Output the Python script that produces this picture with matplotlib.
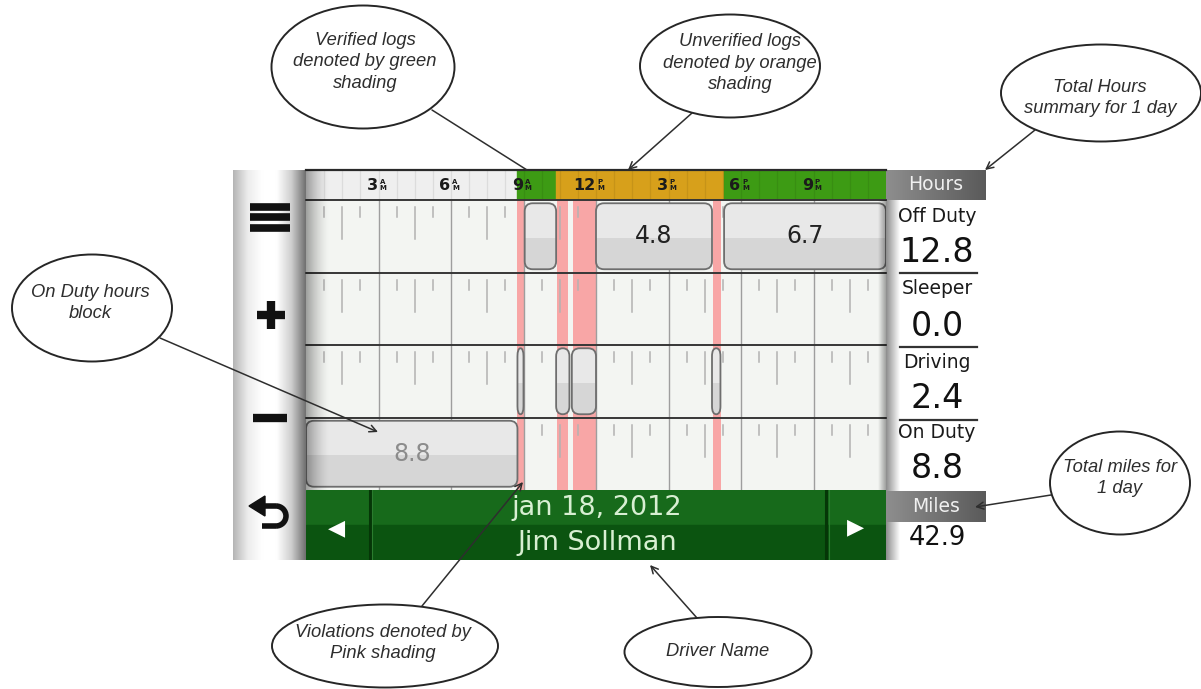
import numpy as np
import matplotlib.pyplot as plt
from matplotlib.colors import LinearSegmentedColormap
from matplotlib.patches import FancyBboxPatch, Rectangle, Ellipse, Arc, Polygon

# duty status rows of the log grid
rows = ["Off Duty", "Sleeper", "Driving", "On Duty"]

# log blocks: row, start hour, end hour, label shown in the block
block_row = [0, 0, 0, 2, 2, 2, 2, 3]
block_start = [9.05, 12.0, 17.3, 8.75, 10.35, 11.0, 16.8, 0.0]
block_end = [10.35, 16.8, 24.0, 9.0, 10.9, 12.0, 17.15, 8.75]
block_label = ["", "4.8", "6.7", "", "", "", "", "8.8"]

# violations (pink shading)
viol_start = [8.73, 10.38, 11.05, 16.84]
viol_end = [9.02, 10.84, 12.04, 17.17]

# verified / unverified strip on top
ver_start = [8.75, 10.35, 17.3]
ver_end = [10.35, 17.3, 24.0]
ver_state = ["verified", "unverified", "verified"]

# hour labels of the top strip
hour_ticks = [3, 6, 9, 12, 15, 18, 21]
hour_labels = ["3", "6", "9", "12", "3", "6", "9"]
hour_ampm = ["A", "A", "A", "P", "P", "P", "P"]

# totals for the day
total_hours = [12.8, 0.0, 2.4, 8.8]
total_miles = 42.9
log_date = "jan 18, 2012"
driver = "Jim Sollman"

# callouts: text, ellipse centre, width, height, text centre, line start, line end, arrow
callouts = [
    ("Verified logs\ndenoted by green\nshading", (363, 67), 183, 123, (365, 62), (432, 110), (527, 170), "-"),
    ("Unverified logs\ndenoted by orange\nshading", (730, 66), 180, 103, (740, 63), (692, 113), (628, 170), "->"),
    ("Total Hours\nsummary for 1 day", (1101, 93), 200, 97, (1100, 98), (1035, 130), (985, 170), "->"),
    ("On Duty hours\nblock", (92, 308), 160, 107, (90, 303), (160, 338), (378, 432), "->"),
    ("Total miles for\n1 day", (1120, 483), 140, 103, (1120, 478), (1051, 495), (975, 507), "->"),
    ("Violations denoted by\nPink shading", (385, 646), 226, 83, (383, 643), (422, 606), (523, 482), "->"),
    ("Driver Name", (718, 652), 187, 70, (718, 652), (697, 618), (650, 565), "->"),
]

W, H = 1201, 689
fig = plt.figure(figsize=(W / 100, H / 100), dpi=100)


def px_axes(x0, y0, x1, y1):
    a = fig.add_axes([x0 / W, 1 - y1 / H, (x1 - x0) / W, (y1 - y0) / H])
    a.set_xticks([])
    a.set_yticks([])
    for s in a.spines.values():
        s.set_visible(False)
    return a


def gradient(a, x0, x1, y0, y1, colors, vertical=False, zorder=0):
    cmap = LinearSegmentedColormap.from_list("g", colors)
    g = np.linspace(0, 1, 256)
    g = g[:, None] if vertical else g[None, :]
    a.imshow(g, cmap=cmap, extent=(x0, x1, y1, y0), aspect="auto",
             interpolation="bicubic", zorder=zorder)


# background layer (pixel coordinates)
bg = fig.add_axes([0, 0, 1, 1])
bg.axis("off")

# left button panel
gradient(bg, 233, 306, 170, 560, ["#b4b4b4", "#ececec", "#ffffff", "#ffffff", "#cfcfcf", "#6f6f6f"])
for y in [207, 217, 228]:
    bg.plot([250, 290], [y, y], color="#111111", lw=5.5, solid_capstyle="butt")
bg.plot([257, 285], [315, 315], color="#111111", lw=6, solid_capstyle="butt")
bg.plot([271, 271], [301, 329], color="#111111", lw=6, solid_capstyle="butt")
bg.plot([253, 287], [418, 418], color="#111111", lw=6, solid_capstyle="butt")
bg.add_patch(Polygon([(249, 506), (265, 496), (265, 516)], color="#111111"))
bg.plot([264, 276], [506, 506], color="#111111", lw=4, solid_capstyle="butt")
bg.add_patch(Arc((276, 516), 20, 20, theta1=-90, theta2=90, color="#111111", lw=4))
bg.plot([276, 262], [526, 526], color="#111111", lw=4, solid_capstyle="butt")

# right totals panel
gradient(bg, 886, 900, 200, 560, ["#8c8c8c", "#ffffff"])
gradient(bg, 886, 986, 170, 200, ["#8e8e8e", "#5a5a5a"])
gradient(bg, 886, 986, 491, 522, ["#8e8e8e", "#5a5a5a"])
bg.text(936, 185, "Hours", ha="center", va="center", fontsize=13.5, color="#f0f0f0")
bg.text(936, 507, "Miles", ha="center", va="center", fontsize=13.5, color="#f0f0f0")
name_y = [217, 288, 362, 433]
value_y = [253, 327, 398, 468]
for name, val, ny, vy in zip(rows, total_hours, name_y, value_y):
    bg.text(937, ny, name, ha="center", va="center", fontsize=13.5, color="#1a1a1a")
    bg.text(937, vy, f"{val:.1f}", ha="center", va="center", fontsize=24, color="#111111")
for y in [273, 347, 420]:
    bg.plot([900, 977], [y, y], color="#333333", lw=1.6)
bg.text(937, 538, f"{total_miles:.1f}", ha="center", va="center", fontsize=18.5, color="#111111")
bg.set_xlim(0, W)
bg.set_ylim(H, 0)

# top strip with hour labels
hx = px_axes(306, 170, 886, 200)
hx.set_facecolor("#efefef")
for s, e, st in zip(ver_start, ver_end, ver_state):
    hx.axvspan(s, e, color="#3d9b14" if st == "verified" else "#d7a01b", zorder=1)
for t in np.arange(0.75, 24, 0.75):
    hx.axvline(t, color="black", alpha=0.08, lw=0.9, zorder=2)
for h, lab, ap in zip(hour_ticks, hour_labels, hour_ampm):
    hx.text(h - 0.03, 0.52, lab, ha="right", va="center", fontsize=11.5,
            fontweight="bold", color="#1b1b1b", zorder=3)
    hx.text(h + 0.05, 0.5, ap + "\nM", ha="left", va="center", fontsize=5,
            fontweight="bold", color="#1b1b1b", linespacing=0.9, zorder=3)
hx.set_xlim(0, 24)
hx.set_ylim(1, 0)
hx.axhline(0, color="#2a2a2a", lw=1.6, clip_on=False, zorder=4)

# log grid
ax = px_axes(306, 200, 886, 490)
ax.set_facecolor("#f3f5f2")
for s, e in zip(viol_start, viol_end):
    ax.axvspan(s, e, color="#f8a6a6", lw=0, zorder=1)
for h in hour_ticks:
    ax.axvline(h, color="#9e9e9e", lw=1, zorder=1.5)
for r in range(len(rows)):
    for t in np.arange(0.75, 24, 0.75):
        if abs(t % 3) < 0.01:
            continue
        long_tick = abs(t % 3 - 1.5) < 0.01
        ax.plot([t, t], [r + 0.1, r + (0.54 if long_tick else 0.24)],
                color="#b2b2b2", lw=1.1, zorder=1.5)
for y in [0, 1, 2, 3]:
    ax.axhline(y, color="#363636", lw=1.4, zorder=3, clip_on=False)

px_hr = 580 / 24
px_row = 290 / 4
for r, s, e, lab in zip(block_row, block_start, block_end, block_label):
    w = e - s
    rx = min(8 / px_hr, w / 2)
    asp = (8 / px_row) / rx
    y0, hgt = r + 0.045, 0.91
    box = FancyBboxPatch((s, y0), w, hgt, boxstyle=f"round,pad=0,rounding_size={rx}",
                         mutation_aspect=asp, fc="#e8e8e8", ec="none", zorder=4)
    ax.add_patch(box)
    low = Rectangle((s, r + 0.52), w, 0.45, fc="#d6d6d6", ec="none", zorder=4.2)
    ax.add_patch(low)
    low.set_clip_path(box)
    ax.add_patch(FancyBboxPatch((s, y0), w, hgt, boxstyle=f"round,pad=0,rounding_size={rx}",
                                mutation_aspect=asp, fc="none", ec="#6e6e6e", lw=1.3, zorder=4.5))
    if lab:
        ax.text((s + e) / 2, r + 0.5, lab, ha="center", va="center", fontsize=17,
                color="#8c8c8c" if rows[r] == "On Duty" else "#222222", zorder=5)
ax.set_xlim(0, 24)
ax.set_ylim(4, 0)

# date / driver bar
nv = px_axes(306, 490, 886, 560)
nv.axhspan(0.5, 1, color="#176a1b")
nv.axhspan(0, 0.5, color="#0b5410")
for x in [0.11, 0.897]:
    nv.axvline(x, color="#053607", lw=2.2)
    nv.axvline(x + 0.004, color="#2a7c2e", lw=0.8)
nv.text(0.052, 0.46, "\u25C0", ha="center", va="center", fontsize=16, color="white")
nv.text(0.948, 0.47, "\u25B6", ha="center", va="center", fontsize=16, color="white")
nv.text(0.502, 0.74, log_date, ha="center", va="center", fontsize=19.5, color="#d8efd2")
nv.text(0.502, 0.24, driver, ha="center", va="center", fontsize=19.5, color="#d8efd2")
nv.set_xlim(0, 1)
nv.set_ylim(0, 1)

# overlay: panel shadow and callouts
ov = fig.add_axes([0, 0, 1, 1])
ov.patch.set_alpha(0)
ov.axis("off")
shade = np.zeros((1, 256, 4))
shade[0, :, 3] = np.linspace(0.5, 0, 256) ** 1.5
ov.imshow(shade, extent=(306, 330, 490, 170), aspect="auto", zorder=1)
shade_r = np.zeros((1, 256, 4))
shade_r[0, :, 3] = np.linspace(0, 0.35, 256)
ov.imshow(shade_r, extent=(878, 886, 490, 200), aspect="auto", zorder=1)

for text, c, ew, eh, tc, p0, p1, style in callouts:
    ov.add_patch(Ellipse(c, ew, eh, fc="white", ec="#262626", lw=1.4, zorder=3))
    ov.text(tc[0], tc[1], text, ha="center", va="center", fontsize=13.2, style="italic",
            family="Liberation Sans", color="#2e2e2e", linespacing=1.32, zorder=4)
    arrow = "-" if style == "-" else "->,head_length=0.5,head_width=0.25"
    ov.annotate("", xy=p1, xytext=p0, zorder=2,
                arrowprops=dict(arrowstyle=arrow, color="#2e2e2e", lw=1.1,
                                shrinkA=0, shrinkB=0))
ov.set_xlim(0, W)
ov.set_ylim(H, 0)

fig.savefig("out.png", dpi=100, facecolor="white")
